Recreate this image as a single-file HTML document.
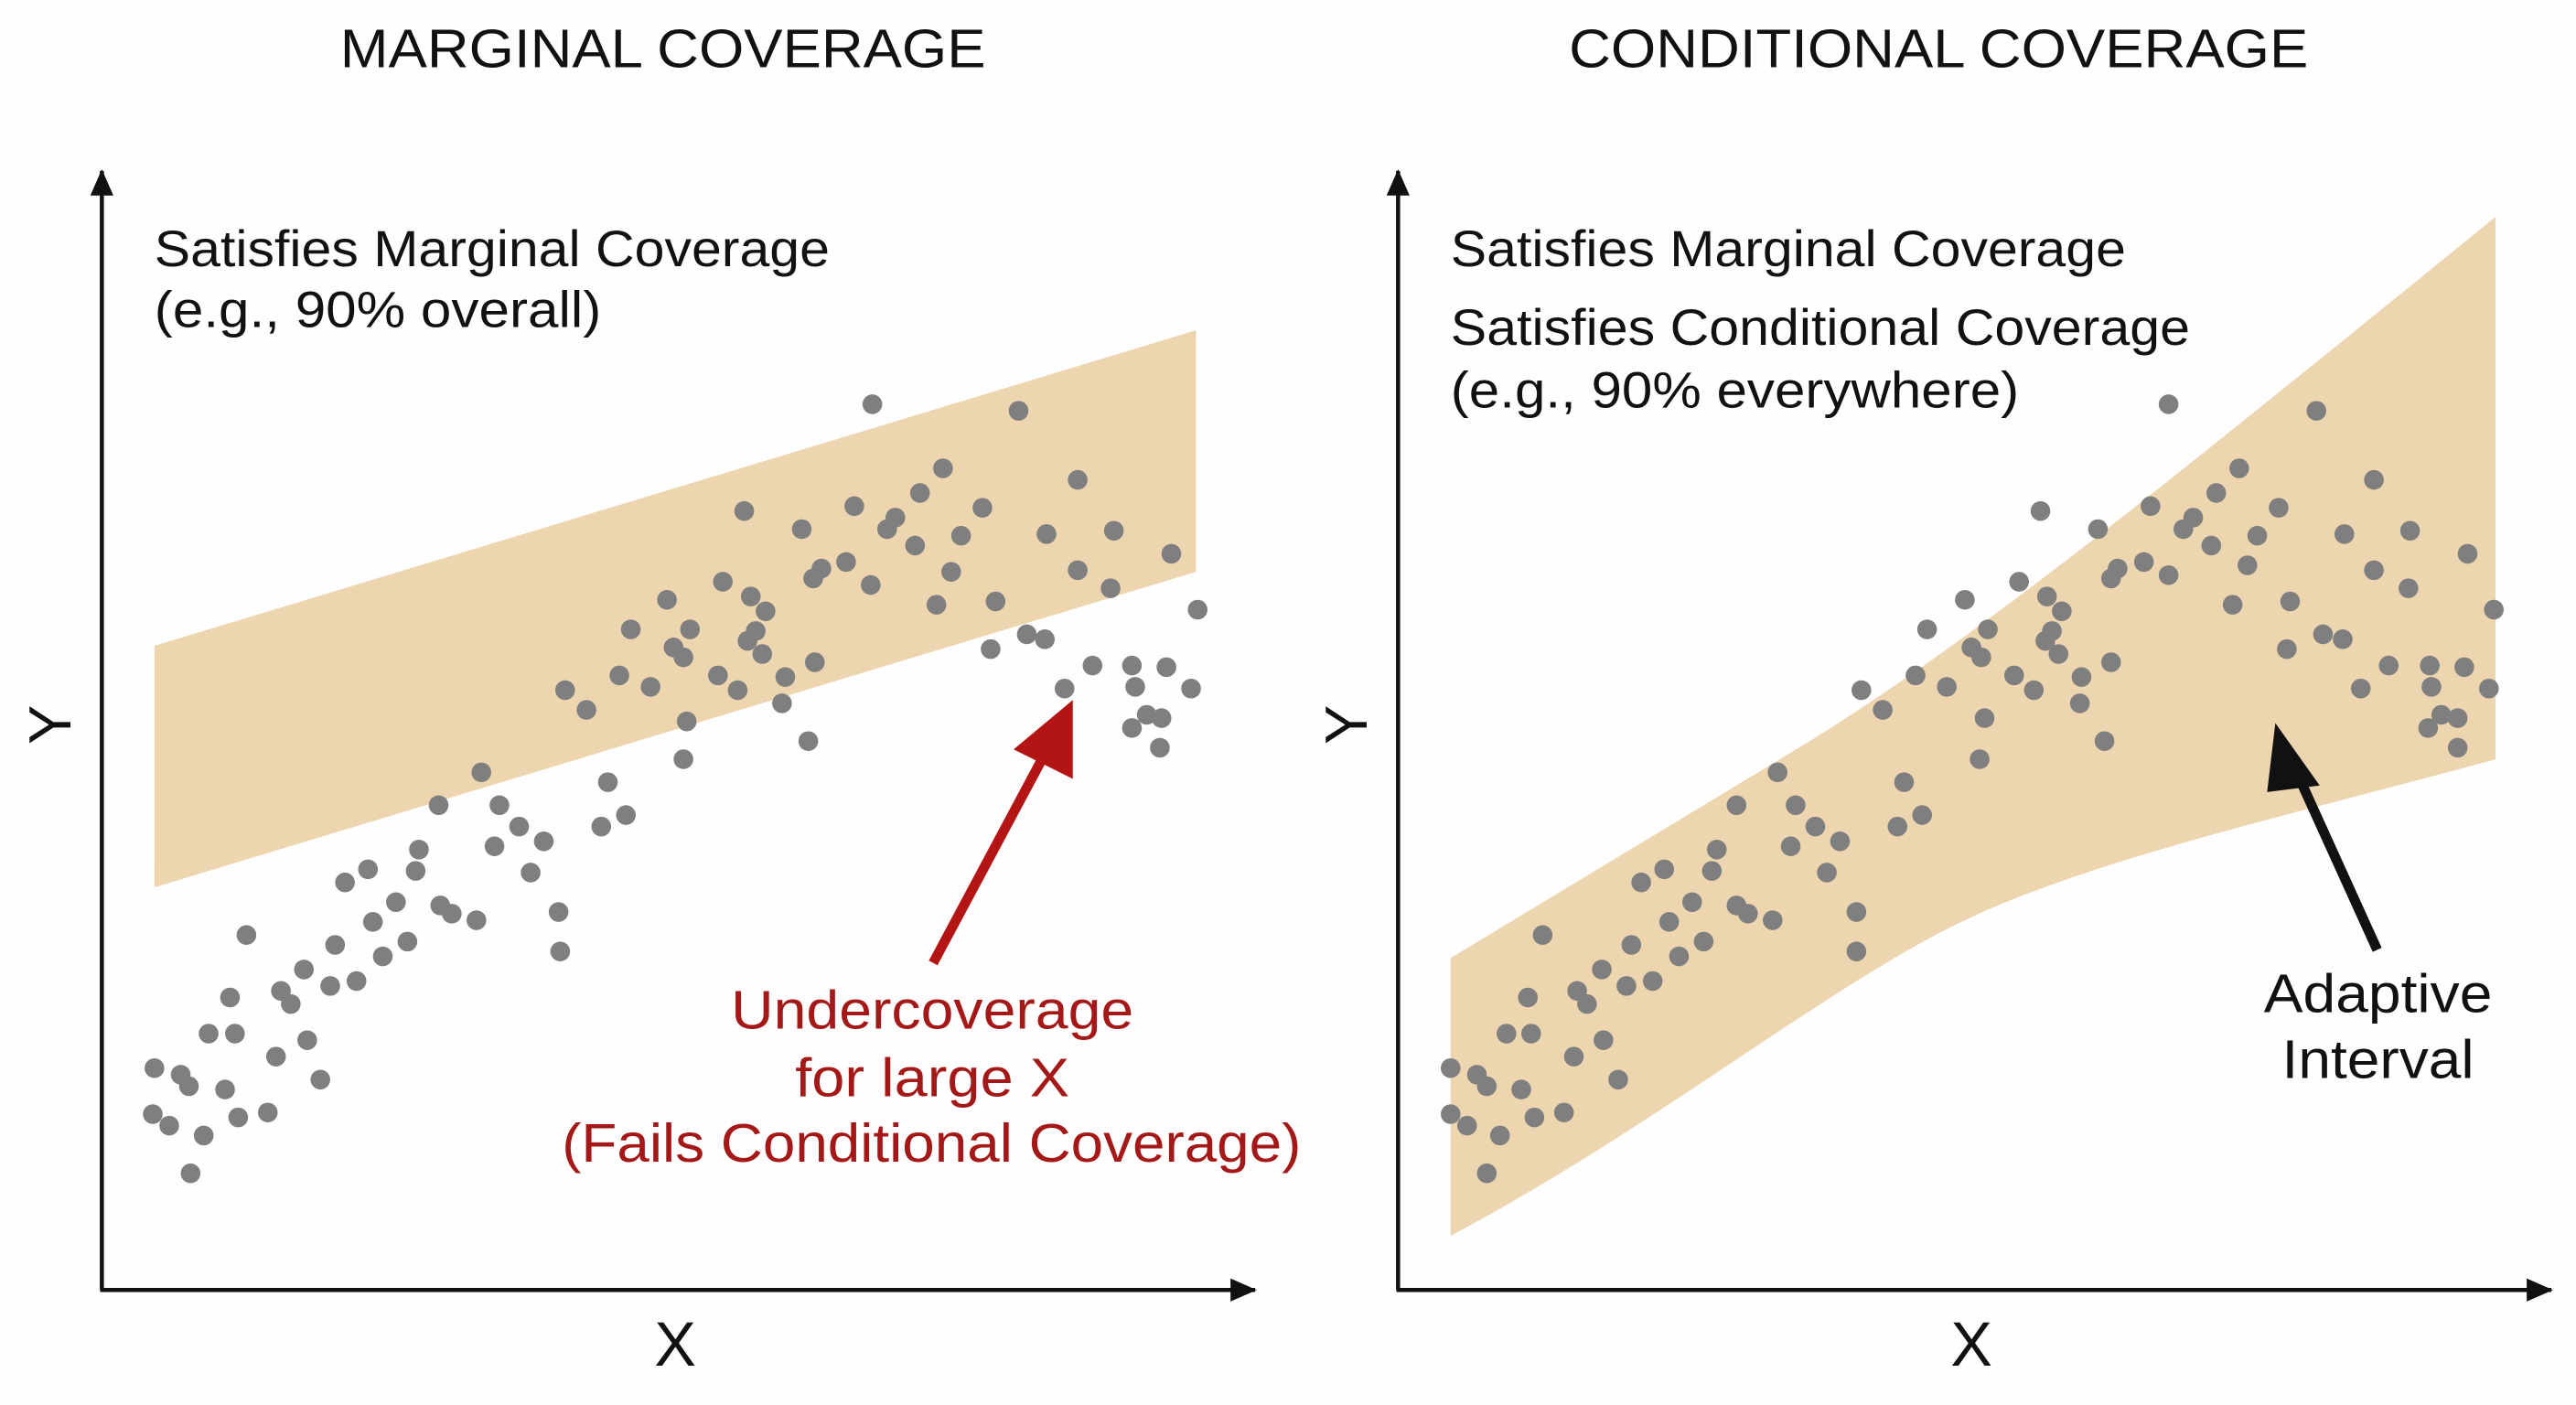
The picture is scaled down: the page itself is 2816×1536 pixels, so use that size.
<!DOCTYPE html>
<html><head><meta charset="utf-8"><style>
html,body{margin:0;padding:0;background:#fefefe;}
svg{display:block;}
text{font-family:"Liberation Sans",sans-serif;}
</style></head><body>
<svg width="2816" height="1536" viewBox="0 0 1568 855" preserveAspectRatio="none" xmlns="http://www.w3.org/2000/svg">
<rect width="1568" height="855" fill="#fefefe"/>
<defs>
<marker id="ah" markerWidth="16" markerHeight="14" refX="15" refY="7" orient="auto" markerUnits="userSpaceOnUse"><path d="M0,0 L16,7 L0,14 Z" fill="#111"/></marker>
</defs>
<!-- Left panel -->
<text x="207" y="41" font-size="33" textLength="393" lengthAdjust="spacingAndGlyphs" fill="#111">MARGINAL COVERAGE</text>
<polygon points="94,393 728,201 728,348 94,540" fill="#edd5b0"/>
<g fill="#7f7f7f">
<circle cx="531" cy="246" r="6"/><circle cx="620" cy="250" r="6"/><circle cx="574" cy="285" r="6"/><circle cx="656" cy="292" r="6"/><circle cx="453" cy="311" r="6"/><circle cx="520" cy="308" r="6"/><circle cx="488" cy="322" r="6"/><circle cx="545" cy="315" r="6"/><circle cx="540" cy="322" r="6"/><circle cx="560" cy="300" r="6"/><circle cx="598" cy="309" r="6"/><circle cx="637" cy="325" r="6"/><circle cx="678" cy="323" r="6"/><circle cx="713" cy="337" r="6"/><circle cx="500" cy="346" r="6"/><circle cx="495" cy="352" r="6"/><circle cx="515" cy="342" r="6"/><circle cx="530" cy="356" r="6"/><circle cx="557" cy="332" r="6"/><circle cx="579" cy="348" r="6"/><circle cx="585" cy="326" r="6"/><circle cx="656" cy="347" r="6"/><circle cx="676" cy="358" r="6"/><circle cx="606" cy="366" r="6"/><circle cx="570" cy="368" r="6"/><circle cx="729" cy="371" r="6"/><circle cx="440" cy="354" r="6"/><circle cx="457" cy="363" r="6"/><circle cx="406" cy="365" r="6"/><circle cx="384" cy="383" r="6"/><circle cx="420" cy="383" r="6"/><circle cx="460" cy="384" r="6"/><circle cx="466" cy="372" r="6"/><circle cx="464" cy="398" r="6"/><circle cx="455" cy="390" r="6"/><circle cx="410" cy="394" r="6"/><circle cx="416" cy="400" r="6"/><circle cx="437" cy="411" r="6"/><circle cx="496" cy="403" r="6"/><circle cx="478" cy="412" r="6"/><circle cx="625" cy="386" r="6"/><circle cx="636" cy="389" r="6"/><circle cx="603" cy="395" r="6"/><circle cx="665" cy="405" r="6"/><circle cx="689" cy="405" r="6"/><circle cx="710" cy="406" r="6"/><circle cx="648" cy="419" r="6"/><circle cx="691" cy="418" r="6"/><circle cx="725" cy="419" r="6"/><circle cx="698" cy="435" r="6"/><circle cx="707" cy="437" r="6"/><circle cx="689" cy="443" r="6"/><circle cx="706" cy="455" r="6"/><circle cx="344" cy="420" r="6"/><circle cx="357" cy="432" r="6"/><circle cx="377" cy="411" r="6"/><circle cx="396" cy="418" r="6"/><circle cx="449" cy="420" r="6"/><circle cx="476" cy="428" r="6"/><circle cx="418" cy="439" r="6"/><circle cx="492" cy="451" r="6"/><circle cx="416" cy="462" r="6"/><circle cx="370" cy="476" r="6"/><circle cx="381" cy="496" r="6"/><circle cx="366" cy="503" r="6"/><circle cx="293" cy="470" r="6"/><circle cx="267" cy="490" r="6"/><circle cx="304" cy="490" r="6"/><circle cx="316" cy="503" r="6"/><circle cx="331" cy="512" r="6"/><circle cx="301" cy="515" r="6"/><circle cx="255" cy="517" r="6"/><circle cx="323" cy="531" r="6"/><circle cx="210" cy="537" r="6"/><circle cx="224" cy="529" r="6"/><circle cx="253" cy="530" r="6"/><circle cx="268" cy="551" r="6"/><circle cx="241" cy="549" r="6"/><circle cx="227" cy="561" r="6"/><circle cx="204" cy="575" r="6"/><circle cx="248" cy="573" r="6"/><circle cx="290" cy="560" r="6"/><circle cx="275" cy="556" r="6"/><circle cx="340" cy="555" r="6"/><circle cx="341" cy="579" r="6"/><circle cx="233" cy="582" r="6"/><circle cx="217" cy="597" r="6"/><circle cx="185" cy="590" r="6"/><circle cx="201" cy="600" r="6"/><circle cx="150" cy="569" r="6"/><circle cx="171" cy="603" r="6"/><circle cx="177" cy="611" r="6"/><circle cx="140" cy="607" r="6"/><circle cx="187" cy="633" r="6"/><circle cx="127" cy="629" r="6"/><circle cx="143" cy="629" r="6"/><circle cx="168" cy="643" r="6"/><circle cx="195" cy="657" r="6"/><circle cx="94" cy="650" r="6"/><circle cx="110" cy="654" r="6"/><circle cx="115" cy="661" r="6"/><circle cx="137" cy="663" r="6"/><circle cx="93" cy="678" r="6"/><circle cx="103" cy="685" r="6"/><circle cx="124" cy="691" r="6"/><circle cx="116" cy="714" r="6"/><circle cx="145" cy="680" r="6"/><circle cx="163" cy="677" r="6"/>
</g>
<line x1="62" y1="785" x2="62" y2="104" stroke="#111" stroke-width="2.5" marker-end="url(#ah)"/>
<line x1="61" y1="785" x2="764" y2="785" stroke="#111" stroke-width="2.5" marker-end="url(#ah)"/>
<text x="94" y="162" font-size="31" textLength="411" lengthAdjust="spacingAndGlyphs" fill="#111">Satisfies Marginal Coverage</text>
<text x="94" y="199" font-size="31" textLength="272" lengthAdjust="spacingAndGlyphs" fill="#111">(e.g., 90% overall)</text>
<text transform="translate(43,441) rotate(-90)" font-size="36" text-anchor="middle" fill="#111">Y</text>
<text x="411" y="831" font-size="38" text-anchor="middle" fill="#111">X</text>
<line x1="568" y1="586" x2="638" y2="455" stroke="#b31515" stroke-width="6"/>
<polygon points="653,426 653,474 617,456" fill="#b31515"/>
<g font-size="33" fill="#a51818">
<text x="445" y="626" textLength="245" lengthAdjust="spacingAndGlyphs">Undercoverage</text>
<text x="484" y="667" textLength="167" lengthAdjust="spacingAndGlyphs">for large X</text>
<text x="342" y="707" textLength="450" lengthAdjust="spacingAndGlyphs">(Fails Conditional Coverage)</text>
</g>
<!-- Right panel -->
<text x="955" y="41" font-size="33" textLength="450" lengthAdjust="spacingAndGlyphs" fill="#111">CONDITIONAL COVERAGE</text>
<path d="M883,583 L1100,452 C1200,390 1300,310 1519,132 L1519,462 C1400,495 1260,525 1180,568 C1100,610 1000,690 883,752 Z" fill="#edd5b0"/>
<g fill="#7f7f7f">
<circle cx="1320" cy="246" r="6"/><circle cx="1410" cy="250" r="6"/><circle cx="1363" cy="285" r="6"/><circle cx="1445" cy="292" r="6"/><circle cx="1242" cy="311" r="6"/><circle cx="1309" cy="308" r="6"/><circle cx="1277" cy="322" r="6"/><circle cx="1335" cy="315" r="6"/><circle cx="1329" cy="322" r="6"/><circle cx="1349" cy="300" r="6"/><circle cx="1387" cy="309" r="6"/><circle cx="1427" cy="325" r="6"/><circle cx="1467" cy="323" r="6"/><circle cx="1502" cy="337" r="6"/><circle cx="1289" cy="346" r="6"/><circle cx="1285" cy="352" r="6"/><circle cx="1305" cy="342" r="6"/><circle cx="1320" cy="350" r="6"/><circle cx="1346" cy="332" r="6"/><circle cx="1368" cy="344" r="6"/><circle cx="1374" cy="326" r="6"/><circle cx="1445" cy="347" r="6"/><circle cx="1466" cy="358" r="6"/><circle cx="1394" cy="366" r="6"/><circle cx="1359" cy="368" r="6"/><circle cx="1518" cy="371" r="6"/><circle cx="1229" cy="354" r="6"/><circle cx="1246" cy="363" r="6"/><circle cx="1196" cy="365" r="6"/><circle cx="1173" cy="383" r="6"/><circle cx="1210" cy="383" r="6"/><circle cx="1249" cy="384" r="6"/><circle cx="1255" cy="372" r="6"/><circle cx="1253" cy="398" r="6"/><circle cx="1245" cy="390" r="6"/><circle cx="1200" cy="394" r="6"/><circle cx="1206" cy="400" r="6"/><circle cx="1226" cy="411" r="6"/><circle cx="1285" cy="403" r="6"/><circle cx="1267" cy="412" r="6"/><circle cx="1414" cy="386" r="6"/><circle cx="1426" cy="389" r="6"/><circle cx="1392" cy="395" r="6"/><circle cx="1454" cy="405" r="6"/><circle cx="1479" cy="405" r="6"/><circle cx="1500" cy="406" r="6"/><circle cx="1437" cy="419" r="6"/><circle cx="1480" cy="418" r="6"/><circle cx="1515" cy="419" r="6"/><circle cx="1486" cy="435" r="6"/><circle cx="1496" cy="437" r="6"/><circle cx="1478" cy="443" r="6"/><circle cx="1496" cy="455" r="6"/><circle cx="1133" cy="420" r="6"/><circle cx="1146" cy="432" r="6"/><circle cx="1166" cy="411" r="6"/><circle cx="1185" cy="418" r="6"/><circle cx="1238" cy="420" r="6"/><circle cx="1266" cy="428" r="6"/><circle cx="1208" cy="437" r="6"/><circle cx="1281" cy="451" r="6"/><circle cx="1205" cy="462" r="6"/><circle cx="1159" cy="476" r="6"/><circle cx="1170" cy="496" r="6"/><circle cx="1155" cy="503" r="6"/><circle cx="1082" cy="470" r="6"/><circle cx="1057" cy="490" r="6"/><circle cx="1093" cy="490" r="6"/><circle cx="1105" cy="503" r="6"/><circle cx="1120" cy="512" r="6"/><circle cx="1090" cy="515" r="6"/><circle cx="1045" cy="517" r="6"/><circle cx="1112" cy="531" r="6"/><circle cx="999" cy="537" r="6"/><circle cx="1013" cy="529" r="6"/><circle cx="1042" cy="530" r="6"/><circle cx="1057" cy="551" r="6"/><circle cx="1030" cy="549" r="6"/><circle cx="1016" cy="561" r="6"/><circle cx="993" cy="575" r="6"/><circle cx="1037" cy="573" r="6"/><circle cx="1079" cy="560" r="6"/><circle cx="1064" cy="556" r="6"/><circle cx="1130" cy="555" r="6"/><circle cx="1130" cy="579" r="6"/><circle cx="1022" cy="582" r="6"/><circle cx="1006" cy="597" r="6"/><circle cx="975" cy="590" r="6"/><circle cx="990" cy="600" r="6"/><circle cx="939" cy="569" r="6"/><circle cx="960" cy="603" r="6"/><circle cx="966" cy="611" r="6"/><circle cx="930" cy="607" r="6"/><circle cx="976" cy="633" r="6"/><circle cx="917" cy="629" r="6"/><circle cx="932" cy="629" r="6"/><circle cx="958" cy="643" r="6"/><circle cx="985" cy="657" r="6"/><circle cx="883" cy="650" r="6"/><circle cx="899" cy="654" r="6"/><circle cx="905" cy="661" r="6"/><circle cx="926" cy="663" r="6"/><circle cx="883" cy="678" r="6"/><circle cx="893" cy="685" r="6"/><circle cx="913" cy="691" r="6"/><circle cx="905" cy="714" r="6"/><circle cx="934" cy="680" r="6"/><circle cx="952" cy="677" r="6"/>
</g>
<line x1="851" y1="785" x2="851" y2="104" stroke="#111" stroke-width="2.5" marker-end="url(#ah)"/>
<line x1="850" y1="785" x2="1553" y2="785" stroke="#111" stroke-width="2.5" marker-end="url(#ah)"/>
<text x="883" y="162" font-size="31" textLength="411" lengthAdjust="spacingAndGlyphs" fill="#111">Satisfies Marginal Coverage</text>
<text x="883" y="210" font-size="31" textLength="450" lengthAdjust="spacingAndGlyphs" fill="#111">Satisfies Conditional Coverage</text>
<text x="883" y="248" font-size="31" textLength="346" lengthAdjust="spacingAndGlyphs" fill="#111">(e.g., 90% everywhere)</text>
<text transform="translate(832,441) rotate(-90)" font-size="36" text-anchor="middle" fill="#111">Y</text>
<text x="1200" y="831" font-size="38" text-anchor="middle" fill="#111">X</text>
<line x1="1447" y1="578" x2="1398" y2="470" stroke="#111" stroke-width="6"/>
<polygon points="1385,440 1412,478 1380,482" fill="#111"/>
<text x="1378" y="616" font-size="33" textLength="139" lengthAdjust="spacingAndGlyphs" fill="#111">Adaptive</text>
<text x="1389" y="656" font-size="33" textLength="117" lengthAdjust="spacingAndGlyphs" fill="#111">Interval</text>
</svg>
</body></html>
